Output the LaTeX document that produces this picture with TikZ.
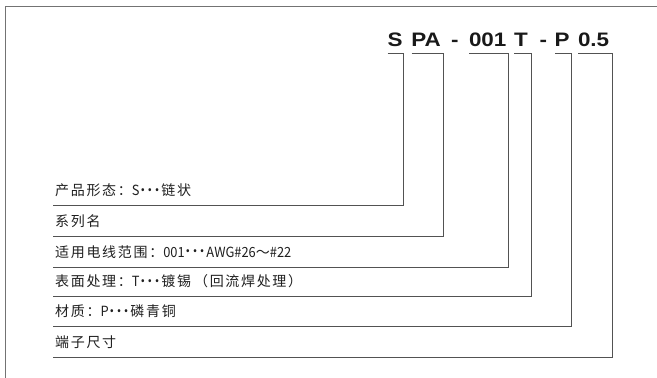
\documentclass[tikz,border=0pt]{standalone}
\usepackage{fontspec}
\newfontfamily\codefont[FakeStretch=1.15]{Liberation Sans}
\newfontfamily\cjk[LetterSpace=12]{Noto Sans CJK SC}
\newfontfamily\lat[FakeStretch=0.92]{Noto Sans CJK SC}
\newcommand\mdots{{\lat\kern1pt\raisebox{0.3em}{\bfseries.\kern2.6pt.\kern2.6pt.}\kern2pt}}
\begin{document}
\begin{tikzpicture}[x=1pt,y=-1pt,
  frame/.style={draw=black!55,line width=1pt},
  link/.style={draw=black!68,line width=0.9pt},
  code/.style={anchor=base west,inner sep=0pt,font=\codefont\bfseries\fontsize{19.5}{22}\selectfont,text=black!90},
  lab/.style={anchor=base west,inner sep=0pt,font=\cjk\fontsize{14}{16}\selectfont,text=black!88}]
\useasboundingbox (0,0) rectangle (657,378);
\draw[frame] (657,6) -- (5,6) -- (5,378);
% code pieces
\node[code] (cS)  at (387.5,46.3) {S};
\node[code] (cPA) at (411.2,46.3) {PA};
\node[code] (cD1) at (451.0,46.3) {-};
\node[code] (c01) at (468.8,46.3) {001};
\node[code] (cT)  at (513.8,46.3) {T};
\node[code] (cD2) at (539.3,46.3) {-};
\node[code] (cP)  at (554.3,46.3) {P};
\node[code] (c05) at (577.8,46.3) {0.5};
% bracket coordinates
\coordinate (aS)  at (387.7,53.3); \coordinate (bS)  at (403.5,53.3);
\coordinate (aPA) at (411.7,53.3); \coordinate (bPA) at (443.5,53.3);
\coordinate (a01) at (469.3,53.3); \coordinate (b01) at (508.0,53.3);
\coordinate (aT)  at (514.3,53.3); \coordinate (bT)  at (531.0,53.3);
\coordinate (aP)  at (555.0,53.3); \coordinate (bP)  at (571.3,53.3);
\coordinate (a05) at (578.3,53.3); \coordinate (b05) at (612.0,53.3);
% label line ends
\coordinate (l1) at (53,205.5);
\coordinate (l2) at (53,236.5);
\coordinate (l3) at (53,267.0);
\coordinate (l4) at (53,296.5);
\coordinate (l5) at (53,326.5);
\coordinate (l6) at (53,357.0);
% labels
\node[lab] (t1) at (55,195.5) {产品形态：{\lat S}\mdots 链状};
\node[lab] (t2) at (55,226.5) {系列名};
\node[lab] (t3) at (55,257.0) {适用电线范围：{\lat 001}\mdots{\lat AWG\#26}～{\lat\#22}};
\node[lab] (t4) at (55,286.5) {表面处理：{\lat T}\mdots 镀锡\kern3pt（回流焊处理）};
\node[lab] (t5) at (55,316.5) {材质：{\lat P}\mdots 磷青铜};
\node[lab] (t6) at (55,347.0) {端子尺寸};
% connectors
\draw[link] (aS) -- (bS) |- (l1);
\draw[link] (aPA) -- (bPA) |- (l2);
\draw[link] (a01) -- (b01) |- (l3);
\draw[link] (aT) -- (bT) |- (l4);
\draw[link] (aP) -- (bP) |- (l5);
\draw[link] (a05) -- (b05) |- (l6);
\end{tikzpicture}
\end{document}
